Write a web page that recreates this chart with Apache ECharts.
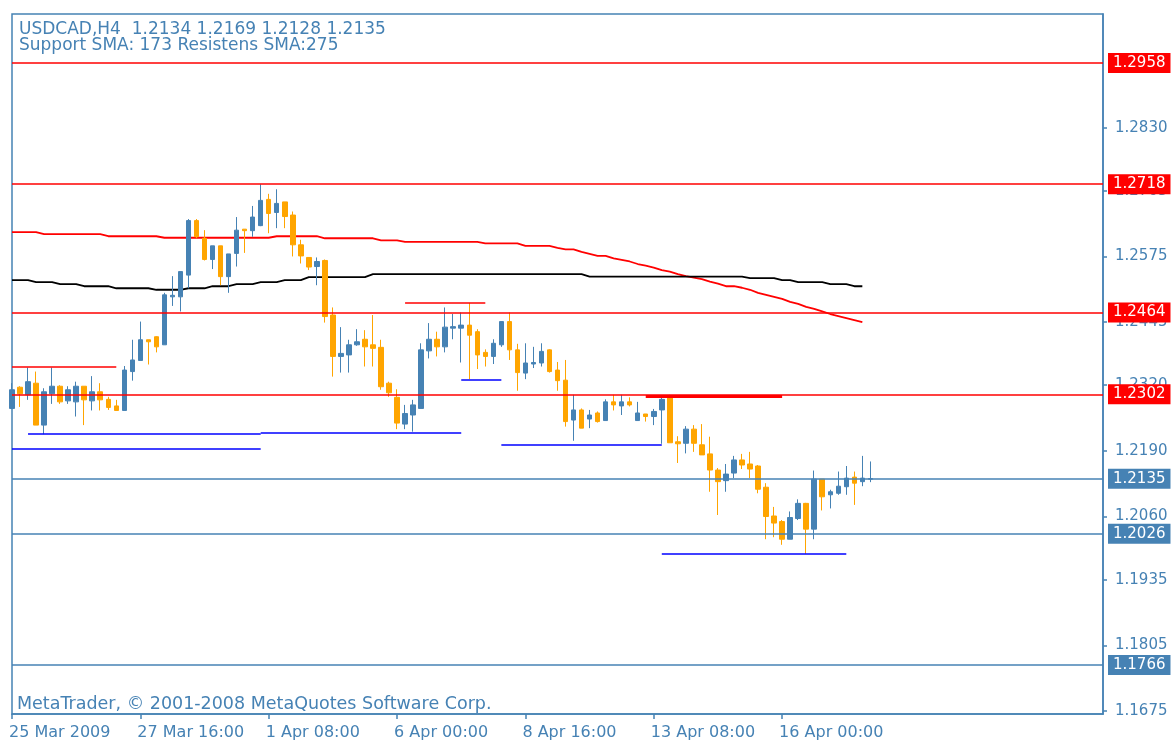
<!DOCTYPE html>
<html><head><meta charset="utf-8">
<script src="https://cdn.jsdelivr.net/npm/echarts@6.0.0/dist/echarts.min.js"></script>
<style>html,body{margin:0;padding:0;background:#fff;}#c{width:1174px;height:747px;}</style>
</head><body><div id="c"></div>
<script>
const headerLine1 = 'USDCAD,H4  1.2134 1.2169 1.2128 1.2135';
const headerLine2 = 'Support SMA: 173 Resistens SMA:275';
const copyright = 'MetaTrader, \u00A9 2001-2008 MetaQuotes Software Corp.';
const xTickLabels = ['25 Mar 2009','27 Mar 16:00','1 Apr 08:00','6 Apr 00:00','8 Apr 16:00','13 Apr 08:00','16 Apr 00:00'];
const yTickValues = [1.1675,1.1805,1.1935,1.2060,1.2190,1.2320,1.2445,1.2575,1.2705,1.2830];

const open = [1.2274,1.2316,1.2301,1.2324,1.2241,1.2303,1.2318,1.2289,1.2287,1.2318,1.2289,1.2307,1.2292,1.2279,1.2270,1.2347,1.2369,1.2410,1.2416,1.2400,1.2495,1.2495,1.2538,1.2646,1.2611,1.2569,1.2596,1.2535,1.2581,1.2629,1.2626,1.2636,1.2688,1.2662,1.2683,1.2657,1.2598,1.2573,1.2555,1.2567,1.2459,1.2377,1.2380,1.2400,1.2411,1.2400,1.2395,1.2324,1.2296,1.2243,1.2261,1.2274,1.2388,1.2411,1.2396,1.2433,1.2433,1.2439,1.2426,1.2385,1.2377,1.2400,1.2446,1.2390,1.2344,1.2362,1.2364,1.2390,1.2350,1.2330,1.2251,1.2271,1.2253,1.2265,1.2250,1.2287,1.2279,1.2287,1.2250,1.2263,1.2258,1.2271,1.2297,1.2208,1.2205,1.2233,1.2202,1.2184,1.2152,1.2131,1.2146,1.2172,1.2164,1.2160,1.2118,1.2061,1.2050,1.2015,1.2056,1.2086,1.2035,1.2134,1.2103,1.2106,1.2119,1.2138,1.2129,1.2134];
const close = [1.2311,1.2303,1.2327,1.2241,1.2307,1.2318,1.2287,1.2311,1.2318,1.2291,1.2307,1.2291,1.2276,1.2270,1.2350,1.2370,1.2410,1.2406,1.2396,1.2499,1.2498,1.2545,1.2646,1.2614,1.2569,1.2596,1.2535,1.2580,1.2627,1.2626,1.2653,1.2686,1.2660,1.2680,1.2654,1.2598,1.2576,1.2554,1.2565,1.2456,1.2377,1.2383,1.2400,1.2406,1.2396,1.2393,1.2317,1.2305,1.2245,1.2264,1.2281,1.2390,1.2411,1.2396,1.2435,1.2436,1.2439,1.2419,1.2380,1.2377,1.2403,1.2446,1.2390,1.2345,1.2364,1.2365,1.2387,1.2347,1.2329,1.2248,1.2271,1.2235,1.2261,1.2248,1.2287,1.2281,1.2287,1.2281,1.2265,1.2258,1.2268,1.2292,1.2206,1.2204,1.2233,1.2205,1.2182,1.2152,1.2129,1.2144,1.2172,1.2162,1.2154,1.2114,1.2060,1.2047,1.2015,1.2058,1.2086,1.2035,1.2134,1.2099,1.2109,1.2120,1.2136,1.2126,1.2136,1.2135];
const low = [1.2274,1.2277,1.2291,1.2241,1.2223,1.2283,1.2283,1.2283,1.2258,1.2241,1.2270,1.2270,1.2271,1.2270,1.2270,1.2329,1.2369,1.2361,1.2385,1.2400,1.2477,1.2466,1.2512,1.2611,1.2567,1.2550,1.2518,1.2503,1.2555,1.2582,1.2614,1.2635,1.2621,1.2631,1.2631,1.2575,1.2561,1.2548,1.2518,1.2444,1.2337,1.2345,1.2345,1.2398,1.2357,1.2357,1.2311,1.2297,1.2233,1.2233,1.2228,1.2274,1.2373,1.2377,1.2385,1.2411,1.2365,1.2332,1.2352,1.2357,1.2362,1.2396,1.2370,1.2309,1.2332,1.2354,1.2357,1.2345,1.2309,1.2238,1.2210,1.2235,1.2235,1.2246,1.2250,1.2270,1.2261,1.2278,1.2250,1.2248,1.2241,1.2204,1.2206,1.2166,1.2185,1.2188,1.2182,1.2109,1.2063,1.2109,1.2136,1.2154,1.2136,1.2106,1.2015,1.2019,1.2004,1.2015,1.2053,1.1986,1.2015,1.2072,1.2076,1.2103,1.2103,1.2083,1.2120,1.2128];
const high = [1.2324,1.2318,1.2355,1.2347,1.2314,1.2355,1.2320,1.2318,1.2327,1.2318,1.2338,1.2324,1.2297,1.2291,1.2358,1.2410,1.2446,1.2410,1.2417,1.2503,1.2536,1.2545,1.2649,1.2649,1.2627,1.2596,1.2596,1.2580,1.2653,1.2629,1.2675,1.2718,1.2699,1.2708,1.2683,1.2664,1.2608,1.2573,1.2573,1.2569,1.2474,1.2435,1.2410,1.2431,1.2429,1.2459,1.2410,1.2327,1.2312,1.2281,1.2291,1.2403,1.2443,1.2426,1.2474,1.2461,1.2464,1.2483,1.2431,1.2391,1.2411,1.2446,1.2464,1.2402,1.2403,1.2396,1.2403,1.2391,1.2366,1.2370,1.2301,1.2274,1.2271,1.2268,1.2292,1.2301,1.2301,1.2296,1.2287,1.2263,1.2273,1.2296,1.2301,1.2219,1.2239,1.2241,1.2243,1.2218,1.2156,1.2164,1.2180,1.2184,1.2188,1.2162,1.2126,1.2079,1.2053,1.2070,1.2094,1.2087,1.2151,1.2134,1.2113,1.2149,1.2160,1.2149,1.2180,1.2169];

const smaResistance = [1.2623,1.2623,1.2623,1.2623,1.2619,1.2619,1.2619,1.2619,1.2619,1.2619,1.2619,1.2619,1.2615,1.2615,1.2615,1.2615,1.2615,1.2615,1.2615,1.2612,1.2612,1.2612,1.2612,1.2612,1.2612,1.2612,1.2612,1.2612,1.2612,1.2612,1.2612,1.2612,1.2612,1.2615,1.2615,1.2615,1.2615,1.2615,1.2615,1.2611,1.2611,1.2611,1.2611,1.2611,1.2611,1.2611,1.2607,1.2607,1.2607,1.2604,1.2604,1.2604,1.2604,1.2604,1.2604,1.2604,1.2604,1.2604,1.2604,1.2601,1.2601,1.2601,1.2601,1.2601,1.2596,1.2596,1.2596,1.2596,1.2592,1.2589,1.2589,1.2584,1.2580,1.2576,1.2576,1.2571,1.2568,1.2565,1.2560,1.2557,1.2553,1.2548,1.2545,1.2540,1.2536,1.2533,1.2530,1.2525,1.2521,1.2516,1.2516,1.2513,1.2509,1.2503,1.2499,1.2495,1.2491,1.2485,1.2481,1.2475,1.2471,1.2466,1.2461,1.2457,1.2453,1.2449,1.2445];
const smaSupport = [1.2528,1.2528,1.2528,1.2524,1.2524,1.2524,1.2520,1.2520,1.2520,1.2516,1.2516,1.2516,1.2516,1.2512,1.2512,1.2512,1.2512,1.2512,1.2509,1.2509,1.2509,1.2509,1.2512,1.2512,1.2512,1.2516,1.2516,1.2516,1.2520,1.2520,1.2520,1.2524,1.2524,1.2524,1.2528,1.2528,1.2528,1.2534,1.2534,1.2534,1.2534,1.2534,1.2534,1.2534,1.2534,1.2540,1.2540,1.2540,1.2540,1.2540,1.2540,1.2540,1.2540,1.2540,1.2540,1.2540,1.2540,1.2540,1.2540,1.2540,1.2540,1.2540,1.2540,1.2540,1.2540,1.2540,1.2540,1.2540,1.2540,1.2540,1.2540,1.2540,1.2535,1.2535,1.2535,1.2535,1.2535,1.2535,1.2535,1.2535,1.2535,1.2535,1.2535,1.2535,1.2535,1.2535,1.2535,1.2535,1.2535,1.2535,1.2535,1.2535,1.2532,1.2532,1.2532,1.2532,1.2528,1.2528,1.2524,1.2524,1.2524,1.2524,1.2520,1.2520,1.2520,1.2516,1.2516];

const resistanceLevels = [1.2958, 1.2718, 1.2464, 1.2302];
const supportLevels = [1.2135, 1.2026, 1.1766];
// [startBar, endBar, price]
const redSegments = [[0, 13, 1.2357], [49, 59, 1.2484]];
const thickRedSegments = [[79, 96, 1.2299]];
const blueSegments = [[2, 31, 1.2223], [31, 56, 1.2226], [0, 31, 1.2195], [56, 61, 1.2330], [61, 81, 1.2203], [81, 104, 1.1986]];

const TOTAL_BARS = 137;
const MON = ['Jan','Feb','Mar','Apr','May','Jun','Jul','Aug','Sep','Oct','Nov','Dec'];
const categories = [];
{
  let t = Date.UTC(2009, 2, 25, 0, 0);
  while (categories.length < TOTAL_BARS) {
    const d = new Date(t);
    const wd = d.getUTCDay();
    if (wd !== 0 && wd !== 6) {
      categories.push(d.getUTCDate() + ' ' + MON[d.getUTCMonth()] + ' ' + String(d.getUTCHours()).padStart(2, '0') + ':00');
    }
    t += 4 * 3600 * 1000;
  }
}

const BLUE = '#4682B4';
const ORANGE = '#FFA500';
const RED = '#FF0000';
const FONT = '"DejaVu Sans", Verdana, sans-serif';

const candles = open.map((o, i) => [o, close[i], low[i], high[i]]);

function levelLine(v, color) {
  return [
    {
      coord: [categories[0], v],
      lineStyle: { color: color, width: 1.5, type: 'solid' },
      label: {
        show: true, position: 'end', distance: 5,
        formatter: v.toFixed(4),
        color: '#fff', backgroundColor: color,
        fontFamily: FONT, fontSize: 15, lineHeight: 16,
        padding: [2, 5, 2, 5]
      }
    },
    { coord: [categories[TOTAL_BARS - 1], v] }
  ];
}
function segment(s, color, width) {
  return [
    { coord: [categories[s[0]], s[2]], lineStyle: { color: color, width: width, type: 'solid' }, label: { show: false } },
    { coord: [categories[s[1]], s[2]] }
  ];
}

const markData = []
  .concat(resistanceLevels.map(v => levelLine(v, RED)))
  .concat(supportLevels.map(v => levelLine(v, BLUE)))
  .concat(redSegments.map(s => segment(s, RED, 1.5)))
  .concat(thickRedSegments.map(s => segment(s, RED, 3)))
  .concat(blueSegments.map(s => segment(s, '#0000FF', 1.5)));

const tickShown = (idx) => idx % 16 === 0 && (idx / 16) < xTickLabels.length;

const chart = echarts.init(document.getElementById('c'), null, { renderer: 'canvas' });
chart.setOption({
  animation: false,
  backgroundColor: '#ffffff',
  grid: { left: 12, top: 14, right: 71, bottom: 33, show: true, borderColor: BLUE, borderWidth: 1.5, backgroundColor: '#fff' },
  xAxis: {
    type: 'category', data: categories, boundaryGap: false,
    axisLine: { show: true, lineStyle: { color: BLUE, width: 1.5 } },
    axisTick: { show: true, interval: tickShown, length: 5, lineStyle: { color: BLUE, width: 1.5 } },
    axisLabel: {
      interval: tickShown, align: 'left', margin: 11, padding: [0, 0, 0, -3],
      color: BLUE, fontFamily: FONT, fontSize: 16,
      formatter: (val, idx) => xTickLabels[idx / 16] || ''
    },
    splitLine: { show: false }
  },
  yAxis: {
    type: 'value', position: 'right', scale: true,
    min: 1.16689, max: 1.30551,
    axisLine: { show: true, lineStyle: { color: BLUE, width: 1.5 } },
    axisTick: { show: true, customValues: yTickValues, length: 4, lineStyle: { color: BLUE, width: 1.5 } },
    axisLabel: { customValues: yTickValues, margin: 12, color: BLUE, fontFamily: FONT, fontSize: 15, formatter: v => v.toFixed(4) },
    splitLine: { show: false }
  },
  graphic: [
    { type: 'text', left: 19, top: 21, z: 10, style: { text: headerLine1, font: '17px ' + FONT, fill: BLUE } },
    { type: 'text', left: 19, top: 37, z: 10, style: { text: headerLine2, font: '17px ' + FONT, fill: BLUE } },
    { type: 'text', left: 17, top: 695, z: 10, style: { text: copyright, font: '17.5px ' + FONT, fill: BLUE } }
  ],
  series: [
    {
      name: 'USDCAD', type: 'candlestick', data: candles, barWidth: 5, clip: true, z: 4,
      itemStyle: { color: BLUE, color0: ORANGE, borderColor: BLUE, borderColor0: ORANGE, borderWidth: 1 },
      markLine: { symbol: ['none', 'none'], silent: true, animation: false, z: 5, data: markData }
    },
    { name: 'Resistens SMA', type: 'line', data: smaResistance, showSymbol: false, symbol: 'none', z: 3, lineStyle: { color: RED, width: 1.8 } },
    { name: 'Support SMA', type: 'line', data: smaSupport, showSymbol: false, symbol: 'none', z: 3, lineStyle: { color: '#000', width: 1.8 } }
  ]
});
</script></body></html>
